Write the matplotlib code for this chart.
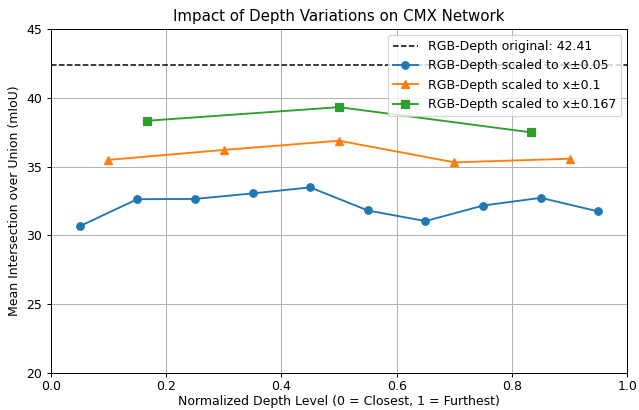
import matplotlib
matplotlib.use("Agg")
import matplotlib.pyplot as plt

baseline = 42.41
x_005 = [0.05, 0.15, 0.25, 0.35, 0.45, 0.55, 0.65, 0.75, 0.85, 0.95]
y_005 = [30.66, 32.63, 32.65, 33.05, 33.49, 31.81, 31.04, 32.17, 32.73, 31.74]
x_01 = [0.1, 0.3, 0.5, 0.7, 0.9]
y_01 = [35.49, 36.21, 36.88, 35.31, 35.57]
x_0167 = [0.167, 0.5, 0.833]
y_0167 = [38.33, 39.32, 37.49]

fig = plt.figure(figsize=(639 / 90, 410 / 90), dpi=90)
ax = fig.add_axes([50.7 / 639, 1 - 373 / 410, (627.3 - 50.7) / 639, (373 - 29) / 410])
ax.axhline(baseline, color="black", linestyle="--", linewidth=1.2,
           label=f"RGB-Depth original: {baseline}")
ax.plot(x_005, y_005, marker="o", color="#1f77b4", label="RGB-Depth scaled to x±0.05")
ax.plot(x_01, y_01, marker="^", color="#ff7f0e", label="RGB-Depth scaled to x±0.1")
ax.plot(x_0167, y_0167, marker="s", color="#2ca02c", label="RGB-Depth scaled to x±0.167")
ax.set_xlim(0, 1)
ax.set_ylim(20, 45)
ax.tick_params(axis="x", pad=2.5)
ax.set_title("Impact of Depth Variations on CMX Network")
ax.set_xlabel("Normalized Depth Level (0 = Closest, 1 = Furthest)", labelpad=1.5)
ax.set_ylabel("Mean Intersection over Union (mIoU)")
ax.grid(True)
ax.legend(loc="upper right")
fig.savefig("out.png", dpi=90)
